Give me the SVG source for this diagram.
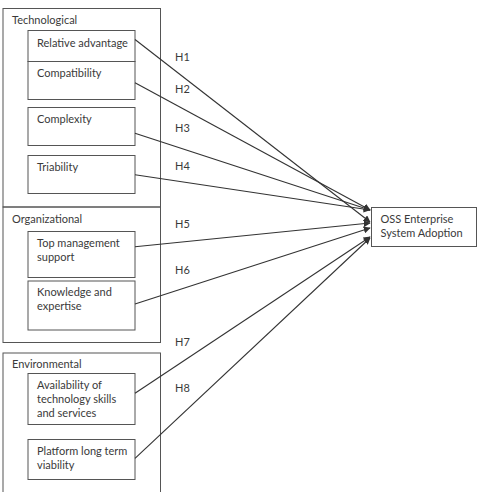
<svg xmlns="http://www.w3.org/2000/svg" width="479" height="492" viewBox="0 0 479 492">
<defs>
<style>
.grp{fill:none;stroke:#555;stroke-width:1}
.box{fill:#fff;stroke:#555;stroke-width:1}
text{font-family:Lato,"Open Sans",sans-serif;font-size:11px;fill:#3a3a3a}
.c{stroke:#333;stroke-width:1.1;fill:none;marker-end:url(#ah)}
</style>
<marker id="ah" viewBox="0 0 10 10" refX="9" refY="5" markerWidth="7" markerHeight="7" orient="auto" markerUnits="userSpaceOnUse">
<path d="M0,0 L10,5 L0,10 z" fill="#333"/>
</marker>
</defs>
<rect width="479" height="492" fill="#fff"/>
<g id="technological">
<rect class="grp" x="3" y="8.5" width="157.5" height="198.5"/>
<text x="12" y="24">Technological</text>
</g>
<g id="organizational">
<rect class="grp" x="3" y="207" width="157.5" height="135.5"/>
<text x="12" y="222.5">Organizational</text>
</g>
<g id="environmental">
<rect class="grp" x="3" y="353" width="157.5" height="145"/>
<text x="12" y="368">Environmental</text>
</g>
<g id="relative-advantage">
<rect class="box" x="28" y="30.5" width="107" height="31"/>
<text x="37" y="46.5">Relative advantage</text>
</g>
<g id="compatibility">
<rect class="box" x="28" y="61.5" width="107" height="38"/>
<text x="37" y="77">Compatibility</text>
</g>
<g id="complexity">
<rect class="box" x="28" y="107.5" width="107" height="38"/>
<text x="37" y="123">Complexity</text>
</g>
<g id="triability">
<rect class="box" x="28" y="155.5" width="107" height="38"/>
<text x="37" y="170.5">Triability</text>
</g>
<g id="top-management">
<rect class="box" x="28" y="231.5" width="107" height="46"/>
<text x="37" y="247">Top management</text>
<text x="37" y="261">support</text>
</g>
<g id="knowledge">
<rect class="box" x="28" y="281" width="107" height="49"/>
<text x="37" y="296">Knowledge and</text>
<text x="37" y="310">expertise</text>
</g>
<g id="availability">
<rect class="box" x="28" y="373.5" width="107" height="51"/>
<text x="37" y="388.5">Availability of</text>
<text x="37" y="402.5">technology skills</text>
<text x="37" y="416.5">and services</text>
</g>
<g id="platform">
<rect class="box" x="28" y="439.5" width="107" height="40"/>
<text x="37" y="455">Platform long term</text>
<text x="37" y="469">viability</text>
</g>
<g id="oss-adoption">
<rect class="box" x="371.5" y="207.5" width="105" height="39"/>
<text x="380.5" y="222.5">OSS Enterprise</text>
<text x="380.5" y="236.5">System Adoption</text>
</g>
<g id="connectors">
<path class="c" d="M135,39.5 L370,222"/>
<path class="c" d="M135,82.7 L370,210"/>
<path class="c" d="M135,133.3 L370,210"/>
<path class="c" d="M135,174.7 L370,210"/>
<path class="c" d="M135,246.7 L370,223"/>
<path class="c" d="M135,304 L370,228"/>
<path class="c" d="M135,393.3 L370,237"/>
<path class="c" d="M135,458.3 L370,238"/>
</g>
<g id="labels">
<text x="175" y="61">H1</text>
<text x="175" y="92.5">H2</text>
<text x="175" y="132">H3</text>
<text x="175" y="170">H4</text>
<text x="175" y="227.5">H5</text>
<text x="175" y="273.5">H6</text>
<text x="175" y="346">H7</text>
<text x="175" y="392">H8</text>
</g>
</svg>
